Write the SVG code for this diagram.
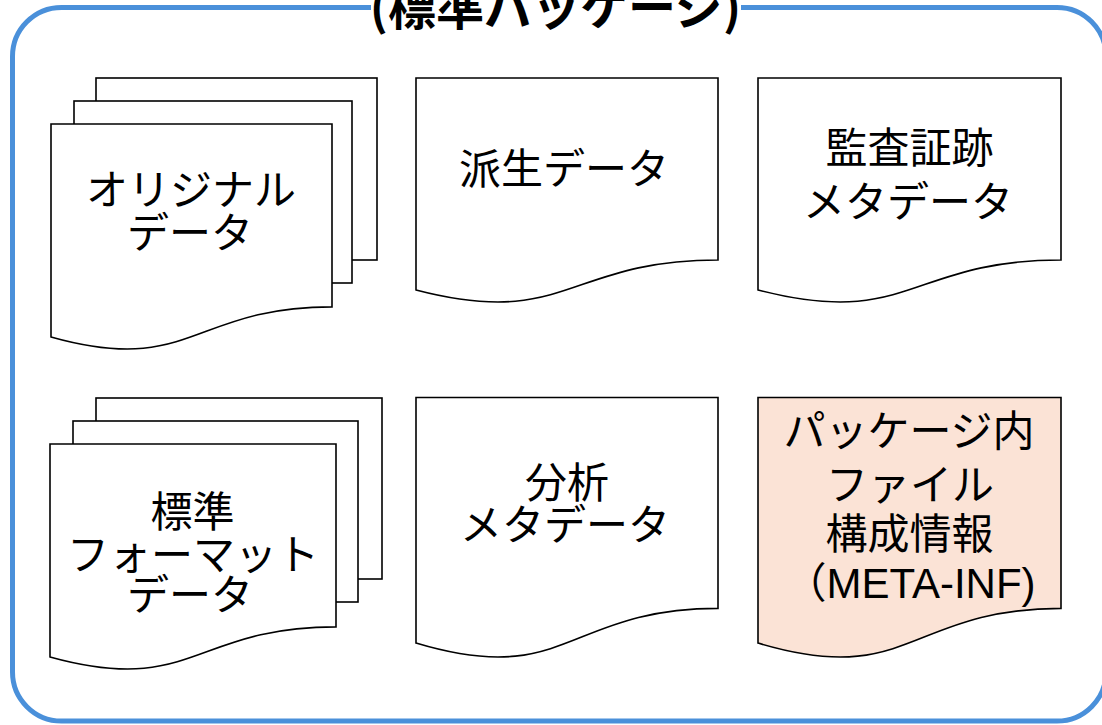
<svg xmlns="http://www.w3.org/2000/svg" width="1102" height="725" viewBox="0 0 1102 725">
  <style>
    .frame { fill: #ffffff; stroke: #4A90DA; stroke-width: 5; }
    .page { fill: #ffffff; stroke: #000000; stroke-width: 1.6; }
    .peach { fill: #FBE3D6; stroke: #000000; stroke-width: 1.6; }
    .lbl { font-family: "Noto Sans CJK JP", "Noto Sans", sans-serif; font-size: 42px; fill: #000000; text-anchor: middle; }
    .latin { font-family: "Liberation Sans", "Noto Sans CJK JP", sans-serif; }
    .title { font-family: "Noto Sans CJK JP", "Noto Sans", sans-serif; font-size: 48px; font-weight: bold; fill: #000000; text-anchor: middle; }
  </style>
  <rect width="1102" height="725" fill="#ffffff"/>
  <g id="package-frame">
    <rect class="frame" x="12.5" y="7.5" width="1093.5" height="713.5" rx="49" ry="49"/>
    <rect x="371" y="0" width="370" height="16" fill="#ffffff"/>
    <text class="title" x="555.5" y="25">(標準パッケージ)</text>
  </g>
  <g id="connectors"></g>
  <g id="node-original-data">
    <rect class="page" x="96" y="78" width="281" height="182"/>
    <rect class="page" x="74" y="101" width="278" height="182"/>
    <path class="page" d="M51,124 H332 V306.9 C191.5,306.9 191.5,376.4 51,337 Z"/>
    <text class="lbl" x="191" y="205">オリジナル</text>
    <text class="lbl" x="190" y="248">データ</text>
  </g>
  <g id="node-derived-data">
    <path class="page" d="M416,78 H718 V260 C567,260 567,329.3 416,290 Z"/>
    <text class="lbl" x="564" y="184">派生データ</text>
  </g>
  <g id="node-audit-metadata">
    <path class="page" d="M758,78 H1061 V260 C909.5,260 909.5,329.3 758,290 Z"/>
    <text class="lbl" x="909.5" y="162.5">監査証跡</text>
    <text class="lbl" x="908" y="217">メタデータ</text>
  </g>
  <g id="node-standard-format-data">
    <rect class="page" x="96" y="398" width="286" height="181"/>
    <rect class="page" x="73" y="421" width="285" height="181"/>
    <path class="page" d="M50,444 H336 V626.9 C193,626.9 193,696.4 50,657 Z"/>
    <text class="lbl" x="192.5" y="527">標準</text>
    <text class="lbl" x="193" y="569.5">フォーマット</text>
    <text class="lbl" x="190" y="610">データ</text>
  </g>
  <g id="node-analysis-metadata">
    <path class="page" d="M416,397.5 H718 V608.4 C567,608.4 567,688.6 416,643.1 Z"/>
    <text class="lbl" x="567" y="498">分析</text>
    <text class="lbl" x="565" y="540">メタデータ</text>
  </g>
  <g id="node-meta-inf">
    <path class="peach" d="M758,397.5 H1061 V608.4 C909.5,608.4 909.5,688.6 758,643.1 Z"/>
    <text class="lbl" x="909" y="446">パッケージ内</text>
    <text class="lbl" x="910" y="500">ファイル</text>
    <text class="lbl" x="909.5" y="549">構成情報</text>
    <text class="lbl latin" x="910" y="598">（META-INF)</text>
  </g>
</svg>
